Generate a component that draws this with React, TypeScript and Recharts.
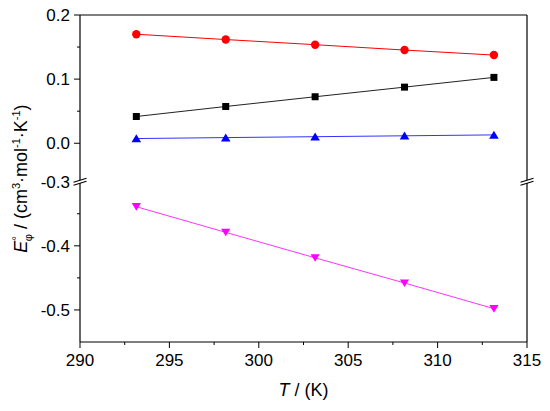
import React from "react";
import {
  ComposedChart,
  Line,
  XAxis,
  YAxis,
  ReferenceLine,
  ReferenceDot,
} from "recharts";

// ---------- data ----------
const TEMPS = [293.15, 298.15, 303.15, 308.15, 313.15];
const RED_VALUES = [0.17, 0.1617, 0.1537, 0.1453, 0.1375];
const BLACK_VALUES = [0.0417, 0.0573, 0.0725, 0.0875, 0.1027];
const BLUE_VALUES = [0.0073, 0.0088, 0.0102, 0.0116, 0.013];
const MAGENTA_VALUES = [-0.339, -0.379, -0.4187, -0.458, -0.498];

const X_MAJOR = [290, 295, 300, 305, 310, 315];
const X_MINOR = [292.5, 297.5, 302.5, 307.5, 312.5];
const Y_TOP_MAJOR = [0.2, 0.1, 0.0];
const Y_TOP_MINOR = [0.15, 0.05];
const Y_BOTTOM_MAJOR = [-0.3, -0.4, -0.5];
const Y_BOTTOM_MINOR = [-0.35, -0.45];

// broken axis: top segment down to BREAK_TOP, bottom segment starts at BREAK_BOTTOM
const BREAK_TOP = -0.06;
const BREAK_BOTTOM = -0.3;
const BOTTOM_MIN = -0.55;
const TOP_MAX = 0.2;
const OFFSET = BREAK_TOP - BREAK_BOTTOM;
const toLow = (v: number) => v + OFFSET;

const table = TEMPS.map((t, i) => ({
  T: t,
  red: RED_VALUES[i],
  black: BLACK_VALUES[i],
  blue: BLUE_VALUES[i],
  magenta: toLow(MAGENTA_VALUES[i]),
}));

type TickDef = { value: number; label: string; major: boolean };
const fmt = (v: number) => v.toFixed(1);
const Y_TICKS: TickDef[] = [
  ...Y_TOP_MAJOR.map((v) => ({ value: v, label: fmt(v), major: true })),
  ...Y_TOP_MINOR.map((v) => ({ value: v, label: "", major: false })),
  ...Y_BOTTOM_MAJOR.map((v) => ({ value: toLow(v), label: fmt(v), major: true })),
  ...Y_BOTTOM_MINOR.map((v) => ({ value: toLow(v), label: "", major: false })),
];
const X_TICKS: TickDef[] = [
  ...X_MAJOR.map((v) => ({ value: v, label: String(v), major: true })),
  ...X_MINOR.map((v) => ({ value: v, label: "", major: false })),
];

const FONT = "'Liberation Sans', Arial, sans-serif";
const TICK_SIZE = 6;
const MINOR_SIZE = 3;
const TICK_MARGIN = 4;
const FS = 17;

const findTick = (list: TickDef[], v: number) =>
  list.find((t) => Math.abs(t.value - v) < 1e-6);

const YTick = (props: any) => {
  const { x, y, payload } = props;
  const t = findTick(Y_TICKS, payload.value);
  if (!t) return null;
  const ax = x + TICK_MARGIN + TICK_SIZE;
  const len = t.major ? TICK_SIZE : MINOR_SIZE;
  const isBreak = Math.abs(t.value - BREAK_TOP) < 1e-6;
  return (
    <g>
      {!isBreak && (
        <line x1={ax - len} x2={ax} y1={y} y2={y} stroke="#000" strokeWidth={1} />
      )}
      {t.label && (
        <text x={x} y={y} dy="0.35em" textAnchor="end" fontSize={FS} fontFamily={FONT} fill="#000">
          {t.label}
        </text>
      )}
    </g>
  );
};

const XTick = (props: any) => {
  const { x, y, payload } = props;
  const t = findTick(X_TICKS, payload.value);
  if (!t) return null;
  const ay = y - TICK_MARGIN - TICK_SIZE;
  const len = t.major ? TICK_SIZE : MINOR_SIZE;
  return (
    <g>
      <line x1={x} x2={x} y1={ay} y2={ay + len} stroke="#000" strokeWidth={1} />
      {t.label && (
        <text x={x} y={y} dy={14} textAnchor="middle" fontSize={FS} fontFamily={FONT} fill="#000">
          {t.label}
        </text>
      )}
    </g>
  );
};

const BreakMark = (props: any) => {
  const { cx, cy } = props;
  if (cx == null || cy == null) return null;
  const w = 6.5;
  return (
    <g>
      <polygon
        points={`${cx - w},${cy + 0.5} ${cx + w},${cy - 3.5} ${cx + w},${cy - 0.5} ${cx - w},${cy + 3.5}`}
        fill="#fff"
        stroke="none"
      />
      <line x1={cx - w} y1={cy + 0.5} x2={cx + w} y2={cy - 3.5} stroke="#000" strokeWidth={1.2} />
      <line x1={cx - w} y1={cy + 3.5} x2={cx + w} y2={cy - 0.5} stroke="#000" strokeWidth={1.2} />
    </g>
  );
};

const CircleDot = (p: any) =>
  p.cx == null ? null : <circle key={p.index} cx={p.cx} cy={p.cy} r={4.2} fill="#ff0000" stroke="none" />;
const SquareDot = (p: any) =>
  p.cx == null ? null : (
    <rect key={p.index} x={p.cx - 3.5} y={p.cy - 3.5} width={7} height={7} fill="#000" stroke="none" />
  );
const TriUpDot = (p: any) =>
  p.cx == null ? null : (
    <polygon
      key={p.index}
      points={`${p.cx},${p.cy - 4.2} ${p.cx + 4.8},${p.cy + 3.8} ${p.cx - 4.8},${p.cy + 3.8}`}
      fill="#0000ff"
    />
  );
const TriDownDot = (p: any) =>
  p.cx == null ? null : (
    <polygon
      key={p.index}
      points={`${p.cx},${p.cy + 4} ${p.cx + 4.6},${p.cy - 3.6} ${p.cx - 4.6},${p.cy - 3.6}`}
      fill="#ff00ff"
    />
  );

const YLabel = (props: any) => {
  const vb = props.viewBox || {};
  const x = (vb.x ?? 0) + 21;
  const y = (vb.y ?? 0) + (vb.height ?? 0) / 2;
  const s = 11;
  return (
    <text
      x={x}
      y={y}
      transform={`rotate(-90, ${x}, ${y})`}
      textAnchor="middle"
      fontSize={18}
      fontFamily={FONT}
      fill="#000"
      dy="0.35em"
    >
      <tspan fontStyle="italic">E</tspan>
      <tspan fontSize={s} dy={-7}>°</tspan>
      <tspan fontSize={s} dx={-5} dy={12}>φ</tspan>
      <tspan dy={-5}> / (cm</tspan>
      <tspan fontSize={s} dy={-7}>3</tspan>
      <tspan dy={7}>·mol</tspan>
      <tspan fontSize={s} dy={-7}>-1</tspan>
      <tspan dy={7}>·K</tspan>
      <tspan fontSize={s} dy={-7}>-1</tspan>
      <tspan dy={7}>)</tspan>
    </text>
  );
};

const XLabel = (props: any) => {
  const vb = props.viewBox || {};
  const x = (vb.x ?? 0) + (vb.width ?? 0) / 2;
  const y = (vb.y ?? 0) + 54;
  return (
    <text x={x} y={y} textAnchor="middle" fontSize={18} fontFamily={FONT} fill="#000">
      <tspan fontStyle="italic">T</tspan>
      <tspan> / (K)</tspan>
    </text>
  );
};

export default function App() {
  return (
    <div style={{ position: "absolute", left: 0, top: 0, width: 550, height: 411, background: "#fff" }}>
      <ComposedChart
        width={550}
        height={411}
        data={table}
        margin={{ top: 15, right: 23, bottom: 0, left: 0 }}
      >
        <XAxis
          dataKey="T"
          type="number"
          domain={[X_MAJOR[0], X_MAJOR[X_MAJOR.length - 1]]}
          ticks={X_TICKS.map((t) => t.value)}
          interval={0}
          tickSize={TICK_SIZE}
          tickMargin={TICK_MARGIN}
          tickLine={false}
          tick={<XTick />}
          axisLine={{ stroke: "#000", strokeWidth: 1.2 }}
          height={69}
          allowDataOverflow
          label={{ content: <XLabel /> } as any}
        />
        <YAxis
          type="number"
          domain={[toLow(BOTTOM_MIN), TOP_MAX]}
          ticks={Y_TICKS.map((t) => t.value)}
          interval={0}
          tickSize={TICK_SIZE}
          tickMargin={TICK_MARGIN}
          tickLine={false}
          tick={<YTick />}
          axisLine={{ stroke: "#000", strokeWidth: 1.2 }}
          width={80}
          allowDataOverflow
          label={{ content: <YLabel /> } as any}
        />
        <ReferenceLine y={TOP_MAX} stroke="#000" strokeWidth={1.2} />
        <ReferenceLine x={X_MAJOR[X_MAJOR.length - 1]} stroke="#000" strokeWidth={1.2} />
        <Line dataKey="red" stroke="#ff0000" strokeWidth={1} dot={CircleDot} activeDot={false} isAnimationActive={false} />
        <Line dataKey="black" stroke="#222" strokeWidth={1} dot={SquareDot} activeDot={false} isAnimationActive={false} />
        <Line dataKey="blue" stroke="#3333ff" strokeWidth={1} dot={TriUpDot} activeDot={false} isAnimationActive={false} />
        <Line dataKey="magenta" stroke="#ff33ff" strokeWidth={1} dot={TriDownDot} activeDot={false} isAnimationActive={false} />
        <ReferenceDot x={X_MAJOR[0]} y={BREAK_TOP} r={1} ifOverflow="visible" shape={(p: any) => <BreakMark {...p} />} />
        <ReferenceDot x={X_MAJOR[X_MAJOR.length - 1]} y={BREAK_TOP} r={1} ifOverflow="visible" shape={(p: any) => <BreakMark {...p} />} />
      </ComposedChart>
    </div>
  );
}
